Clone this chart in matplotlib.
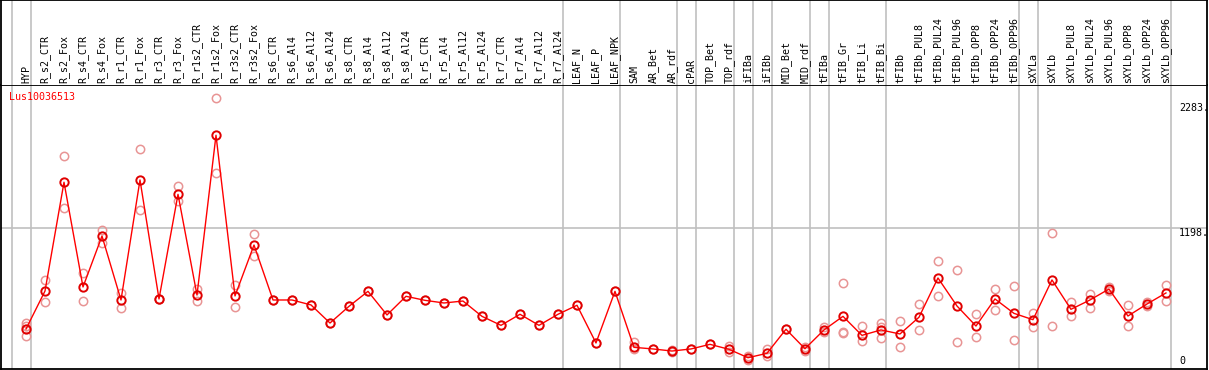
import matplotlib
matplotlib.use("Agg")
import matplotlib.pyplot as plt
import matplotlib.transforms as mtrans
import numpy as np

gene = "Lus10036513"

samples = ["HYP", "R_s2_CTR", "R_s2_Fox", "R_s4_CTR", "R_s4_Fox", "R_r1_CTR", "R_r1_Fox",
           "R_r3_CTR", "R_r3_Fox", "R_r1s2_CTR", "R_r1s2_Fox", "R_r3s2_CTR", "R_r3s2_Fox",
           "R_s6_CTR", "R_s6_Al4", "R_s6_Al12", "R_s6_Al24", "R_s8_CTR", "R_s8_Al4",
           "R_s8_Al12", "R_s8_Al24", "R_r5_CTR", "R_r5_Al4", "R_r5_Al12", "R_r5_Al24",
           "R_r7_CTR", "R_r7_Al4", "R_r7_Al12", "R_r7_Al24", "LEAF_N", "LEAF_P", "LEAF_NPK",
           "SAM", "AR_Bet", "AR_rdf", "cPAR", "TOP_Bet", "TOP_rdf", "iFIBa", "iFIBb",
           "MID_Bet", "MID_rdf", "tFIBa", "tFIB_Gr", "tFIB_Li", "tFIB_Bi", "tFIBb",
           "tFIBb_PUL8", "tFIBb_PUL24", "tFIBb_PUL96", "tFIBb_OPP8", "tFIBb_OPP24",
           "tFIBb_OPP96", "sXYLa", "sXYLb", "sXYLb_PUL8", "sXYLb_PUL24", "sXYLb_PUL96",
           "sXYLb_OPP8", "sXYLb_OPP24", "sXYLb_OPP96"]

mean_expr = [321, 651, 1595, 686, 1128, 573, 1615, 582, 1490, 616, 2003, 608, 1050,
             573, 573, 530, 373, 518, 648, 443, 605, 570, 547, 564, 431, 353, 449, 353, 449,
             527, 200, 648, 162, 148, 130, 148, 188, 145, 72, 110, 319, 150, 313, 431, 266,
             313, 278, 423, 764, 521, 347, 582, 457, 402, 747, 492, 573, 668, 434, 538, 634]

rep_expr = [[371, 350, 263], [747, 553], [1820, 1369], [807, 564], [1181, 1070],
            [636, 501], [1881, 1352], [582, 582], [1560, 1432], [666, 567], [2324, 1673],
            [703, 510], [1146, 955], [573], [573], [530], [373], [518], [648], [443], [605],
            [570], [547], [564], [431], [353], [449], [353], [449], [527], [200], [648],
            [208, 145], [148], [122, 139], [148], [188], [119, 171], [52, 84], [145, 84],
            [319], [168, 128], [336, 293], [720, 293, 284], [345, 214], [373, 341, 243],
            [393, 165], [538, 310], [909, 605], [831, 208], [451, 252], [668, 486],
            [692, 226], [463, 339], [1155, 347], [558, 431], [625, 506], [683, 651],
            [530, 345], [553, 523], [703, 562]]

group_lines = [-1, 0, 28, 31, 34, 35, 37, 38, 39, 41, 42, 45, 52, 53, 60]
y_ticks = [2283, 1198, 0]
y_tick_text = ["2283.", "1198.", "0"]

W, H = 1209, 370
fig = plt.figure(figsize=(W / 100, H / 100), dpi=100)
ax = fig.add_axes([1 / W, 1 / H, 1206 / W, 284 / H])
hdr = fig.add_axes([1 / W, 285 / H, 1206 / W, 85 / H], sharex=ax)

x = np.arange(len(samples))
ax.set_xlim(-1.316, 62.16)
ax.set_ylim(-26, 2439)
hdr.set_ylim(0, 1)

for a in (ax, hdr):
    a.set_xticks([])
    a.set_yticks([])
    for s in a.spines.values():
        s.set_color("black")
        s.set_linewidth(1.3)
    for g in group_lines:
        a.axvline(g + 0.25, color="#c0c0c0", lw=1.2, zorder=0)
hdr.spines["bottom"].set_visible(False)

ax.axhline(1198, color="#c0c0c0", lw=1.2, zorder=0)

mono = "DejaVu Sans Mono"
for i, name in enumerate(samples):
    hdr.text(i, 0.025, name, rotation=90, ha="center", va="bottom",
             fontsize=7.2, family=mono)

# replicates
for i, reps in enumerate(rep_expr):
    ax.plot([i] * len(reps), reps, "o", ms=6, mfc="none", mec="#e89494", mew=1.1,
            zorder=2)

ax.plot(x, mean_expr, "-", color="red", lw=1, zorder=3)
ax.plot(x, mean_expr, "o", ms=6, mfc="none", mec="#e00000", mew=1.4, zorder=4)

ax.text(8 / 1206, 1 - 7 / 284, gene, transform=ax.transAxes, color="red",
        fontsize=7.2, family=mono, ha="left", va="top")

tr = mtrans.blended_transform_factory(ax.transAxes, ax.transData)
for v, t in zip(y_ticks, y_tick_text):
    ax.text(0.9768, v, t, transform=tr, fontsize=7.2, family=mono, ha="left",
            va="top" if v > 0 else "bottom")

fig.savefig("out.png", dpi=100)
